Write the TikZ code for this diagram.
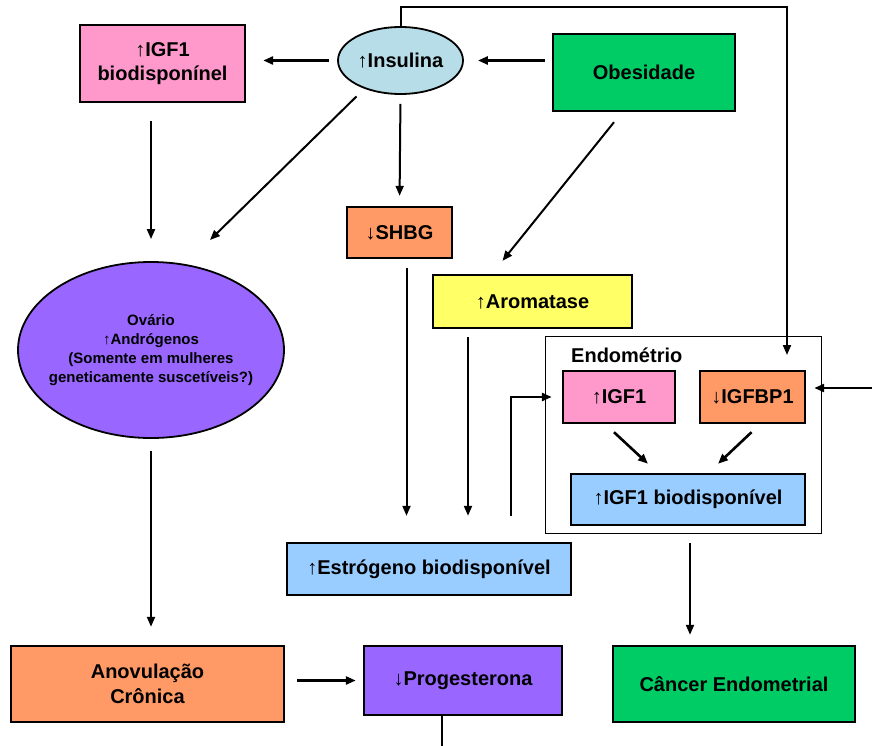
\documentclass[tikz,border=0pt]{standalone}
\usepackage{fontspec}
\setmainfont{Liberation Sans}
\usepackage{xcolor}
\usepackage{tikz}
\usetikzlibrary{shapes,shapes.geometric}
\usetikzlibrary{calc,arrows.meta,positioning}
\definecolor{rosa}{HTML}{FF99CC}
\definecolor{celeste}{HTML}{B7DEE8}
\definecolor{verde}{HTML}{00CC66}
\definecolor{laranja}{HTML}{FF9966}
\definecolor{amarelo}{HTML}{FFFF66}
\definecolor{roxo}{HTML}{9966FF}
\definecolor{azul}{HTML}{99CCFF}
\newcommand{\arrup}{{\mdseries ↑}}
\newcommand{\arrdn}{{\mdseries ↓}}
\tikzset{
  box/.style={draw, line width=2.4pt, align=center, text centered, inner sep=2pt,
  font=\bfseries\fontsize{20}{24}\selectfont},
  oval/.style={ellipse, draw, line width=1.8pt, align=center, inner sep=0pt,
  font=\bfseries\fontsize{20}{24}\selectfont},
  seta/.style={->, line width=2pt},
  setag/.style={->, line width=2.6pt}
}
\begin{document}
\begin{tikzpicture}[x=1pt,y=-1pt,>={Triangle[length=10pt,width=8pt]}]
    \useasboundingbox (0,0) rectangle (872,746);
    \node (A) [oval,fill=celeste,minimum width=125pt,minimum height=67pt] at (400.5,60.5)
    {\arrup Insulina};
    \node (B) [box,fill=rosa,minimum width=165pt,minimum height=77pt] at (162.5,63.5)
    {\arrup IGF1\\biodisponínel};
    \node (C) [box,fill=verde,minimum width=182pt,minimum height=77pt] at (644,72.5)
    {Obesidade};
    \node (D) [box,fill=laranja,minimum width=105pt,minimum height=51pt] at (399.5,232.5)
    {\arrdn SHBG};
    \node (E) [box,fill=amarelo,minimum width=199pt,minimum height=53pt] at (532.5,301.5)
    {\arrup Aromatase};
    \node (F) [oval,fill=roxo,minimum width=266pt,minimum height=176pt,inner xsep=-12pt,
    font=\bfseries\fontsize{15}{19}\selectfont] at (151,350)
    {Ovário\\\arrup Andrógenos\\(Somente em mulheres\\geneticamente suscetíveis?)};
    \node (G) [draw,line width=0.9pt,minimum width=276pt,minimum height=197pt] at (683,434.5) {};
    \node (G1) [anchor=west,inner sep=0pt,font=\bfseries\fontsize{20}{24}\selectfont] at (571,355)
    {Endométrio};
    \node (H) [box,fill=rosa,minimum width=112pt,minimum height=52pt] at (619,397)
    {\arrup IGF1};
    \node (I) [box,fill=laranja,minimum width=105pt,minimum height=52pt] at (752.5,397)
    {\arrdn IGFBP1};
    \node (J) [box,fill=azul,minimum width=234pt,minimum height=51pt] at (688,499.5)
    {\arrup IGF1 biodisponível};
    \node (K) [box,fill=azul,minimum width=284pt,minimum height=52pt] at (429,569)
    {\arrup Estrógeno biodisponível};
    \node (L) [box,fill=laranja,minimum width=273pt,minimum height=76pt,
    font=\bfseries\fontsize{20}{25}\selectfont] at (147.5,684)
    {Anovulação\\Crônica};
    \node (M) [box,fill=roxo,minimum width=198pt,minimum height=69pt] at (463,680.5)
    {\arrdn Progesterona};
    \node (N) [box,fill=verde,minimum width=242pt,minimum height=76pt] at (734,684)
    {Câncer Endometrial};
    \coordinate (P) at (787,355);
    \coordinate (Q) at (210,240);
    \coordinate (R) at (872,388);
    \coordinate (S) at ($(D.south)+(7,9)$);
    \coordinate (T) at ($(E.south)+(-64.5,8)$);
    \coordinate (U) at ($(K.north)+(82,-26)$);
    \coordinate (V) at ($(G.south)+(7,10)$);
    \coordinate (W) at ($(M.south)+(-21,31)$);
    \path (A.west) edge [setag,shorten <=8pt,shorten >=17pt] (A.west -| B.east);
    \path (C.west |- A.east) edge [setag,shorten <=7pt,shorten >=14pt] (A.east);
    \draw [seta] (A.north) -- ++(0,-19) -| (P);
    \path (A.218) edge [seta,shorten <=11pt] (Q);
    \path (B.south -| F.north) edge [seta,shorten <=18pt,shorten >=22pt] (F.north);
    \path (A.south) edge [seta,shorten <=9pt,shorten >=10pt] (D.north);
    \path ($(C.south)+(-30,10)$) edge [seta] ($(E.north)+(-30,-13)$);
    \path (S) edge [seta,shorten >=26pt] (S |- K.north);
    \path (T) edge [seta,shorten >=26pt] (T |- K.north);
    \draw [setag,shorten >=10pt] (U) |- (H.west);
    \path (R) edge [setag,shorten >=8pt] (R -| I.east);
    \path ($(H.south)+(-5,8)$) edge [setag] ($(J.north)+(-40,-9)$);
    \path ($(I.south)+(-1,8)$) edge [setag] ($(J.north)+(30,-9)$);
    \path (V) edge [seta,shorten >=10pt] (V |- N.north);
    \path (F.south) edge [seta,shorten <=12pt,shorten >=18pt] (F.south |- L.north);
    \path (M.west -| L.east) edge [setag,shorten <=12pt,shorten >=7pt] (M.west);
    \draw [line width=2pt] (W |- M.south) -- (W);
\end{tikzpicture}
\end{document}
